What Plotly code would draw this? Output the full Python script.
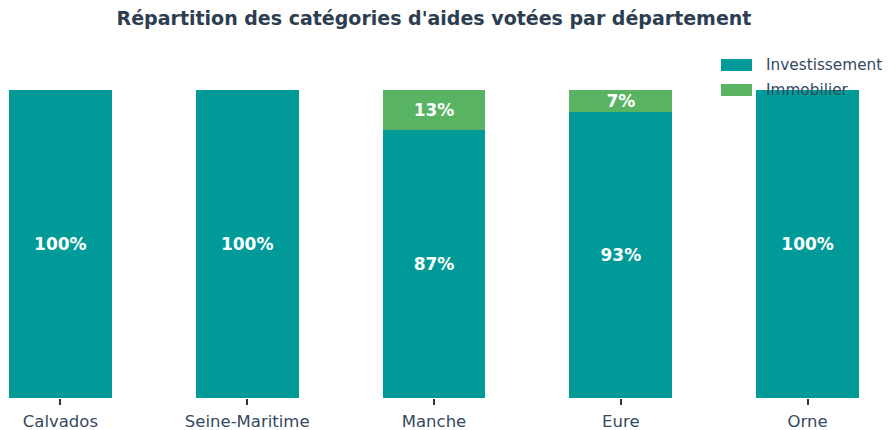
import plotly.graph_objects as go

departements = ["Calvados", "Seine-Maritime", "Manche", "Eure", "Orne"]
investissement = [100, 100, 87, 93, 100]
immobilier = [0, 0, 13, 7, 0]
series_names = ["Investissement", "Immobilier"]
colors = ["#009B98", "#58B363"]

FONT = "DejaVu Sans"
TXT = "#34495E"


def labels(vals):
    return [f"{v}%" if v > 0 else "" for v in vals]


fig = go.Figure()
for name, vals, col in zip(series_names, [investissement, immobilier], colors):
    fig.add_trace(go.Bar(
        x=departements, y=vals, name=name, marker=dict(color=col, line=dict(width=0)),
        text=labels(vals), textposition="inside", insidetextanchor="middle",
        textfont=dict(family=FONT, size=17, color="white", weight="bold"),
        constraintext="none", width=0.55, showlegend=False,
        hovertemplate="%{x}<br>" + name + ": %{y}%<extra></extra>",
    ))

# custom legend (wide swatches like the reference)
leg_y = [65, 90]
for name, col, yy in zip(series_names, colors, leg_y):
    fig.add_shape(type="rect", xref="paper", yref="paper",
                  x0=(721 - 9) / 850, x1=(752 - 9) / 850,
                  y0=(398 - (yy - 6)) / 308, y1=(398 - (yy + 6)) / 308,
                  fillcolor=col, line=dict(width=0), layer="above")
    fig.add_annotation(xref="paper", yref="paper", x=(764 - 9) / 850,
                       y=(398 - yy) / 308, text=name, showarrow=False,
                       xanchor="left", yanchor="middle",
                       font=dict(family=FONT, size=15.3, color=TXT))

W, H = 882, 422
fig.update_layout(
    barmode="stack",
    width=W, height=H,
    margin=dict(l=1, r=31, t=82, b=32, autoexpand=False),
    paper_bgcolor="white", plot_bgcolor="white",
    title=dict(text="<b>Répartition des catégories d'aides votées par département</b>",
               x=0.5, xref="paper", xanchor="center",
               y=1 - 10 / H, yref="container", yanchor="middle",
               font=dict(family=FONT, size=19, color="#2C3E50")),
    font=dict(family=FONT, color=TXT),
    xaxis=dict(range=[-0.275, 4.275], showgrid=False, showline=False, zeroline=False,
               automargin=False, ticklabelstandoff=2,
               ticks="outside", ticklen=6, tickwidth=1.5, tickcolor="#333",
               tickfont=dict(family=FONT, size=16.5, color=TXT)),
    yaxis=dict(range=[0, 100], visible=False, automargin=False),
)

fig.write_html("out.html")
